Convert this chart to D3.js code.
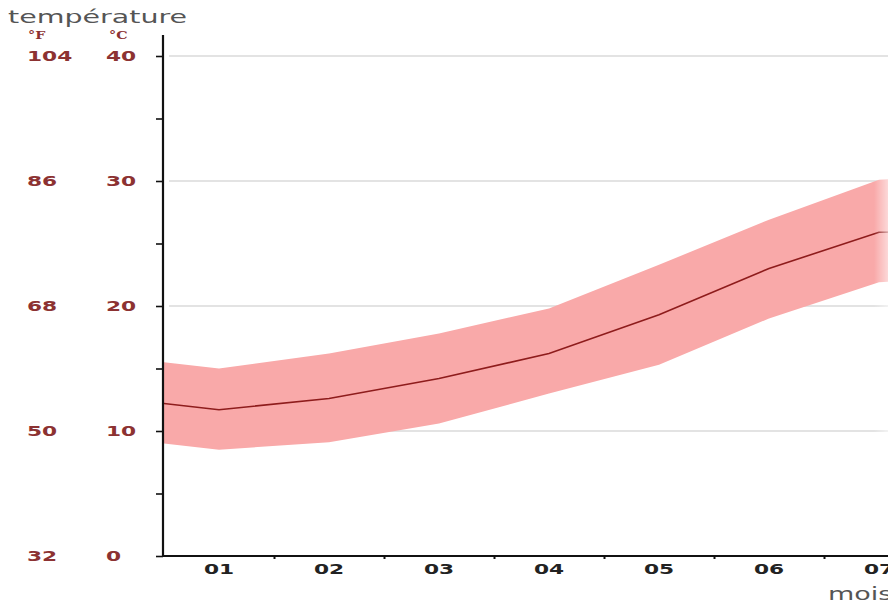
<!DOCTYPE html>
<html>
<head>
<meta charset="utf-8">
<script src="https://cdn.jsdelivr.net/npm/d3@7"></script>
<style>
  body { margin: 0; background: #fff; }
  svg { display: block; }
</style>
</head>
<body>
<div class="chart"></div>
<script>
// month index 0 = previous December, 8 = August (both partly outside the plot)
const monthIdx = [0, 1, 2, 3, 4, 5, 6, 7, 8]
const tMean = [12.7, 11.7, 12.6, 14.2, 16.2, 19.3, 23.0, 25.9, 26.2]
const tMax = [16.0, 15.0, 16.2, 17.8, 19.8, 23.3, 26.9, 30.1, 30.5]
const tMin = [9.5, 8.5, 9.1, 10.6, 13.0, 15.3, 19.0, 21.9, 22.3]
const monthLabels = ['01', '02', '03', '04', '05', '06', '07']
const celsiusTicks = [0, 10, 20, 30, 40]
const fahrenheitLabels = ['32', '50', '68', '86', '104']

const W = 888
const H = 603
const LABEL_COLOR = '#8c3232'
const STRETCH = 1.55

const data = monthIdx.map((m, i) => ({ m, mean: tMean[i], hi: tMax[i], lo: tMin[i] }))

const svg = d3.select('.chart').append('svg')
  .attr('width', W)
  .attr('height', H)

const x = d3.scaleLinear().domain([0.5, 7.5]).range([164, 934])
const y = d3.scaleLinear().domain([0, 40]).range([556, 56])

svg.append('clipPath').attr('id', 'plot-clip')
  .append('rect')
  .attr('x', x(0.5)).attr('y', 30)
  .attr('width', W - x(0.5)).attr('height', y(0) - 30)

// grid
svg.append('g')
  .selectAll('line')
  .data(celsiusTicks.filter(d => d > 0))
  .join('line')
  .attr('x1', 169).attr('x2', W)
  .attr('y1', d => y(d)).attr('y2', d => y(d))
  .attr('stroke', '#c8c8c8')
  .attr('stroke-width', 1.2)

const plot = svg.append('g').attr('clip-path', 'url(#plot-clip)')

plot.append('path')
  .datum(data)
  .attr('fill', '#f9a9a9')
  .attr('d', d3.area().x(d => x(d.m)).y0(d => y(d.lo)).y1(d => y(d.hi)))

plot.append('path')
  .datum(data)
  .attr('fill', 'none')
  .attr('stroke', '#8e1c1c')
  .attr('stroke-width', 1.6)
  .attr('d', d3.line().x(d => x(d.m)).y(d => y(d.mean)))

// right edge fade as in the source image
const fade = svg.append('defs').append('linearGradient').attr('id', 'fade')
fade.append('stop').attr('offset', '0%').attr('stop-color', '#fff').attr('stop-opacity', 0)
fade.append('stop').attr('offset', '100%').attr('stop-color', '#fff').attr('stop-opacity', 0.55)
svg.append('rect').attr('x', W - 14).attr('y', 150).attr('width', 14).attr('height', 350).attr('fill', 'url(#fade)')

// y axis
const axisY = d3.axisLeft(y).tickValues(d3.range(0, 41, 5)).tickSize(7).tickFormat('')
const gy = svg.append('g').attr('transform', 'translate(163,0)').call(axisY)
gy.select('.domain').remove()
gy.selectAll('.tick line').attr('stroke', '#111').attr('stroke-width', 1.6)
svg.append('line')
  .attr('x1', 163).attr('x2', 163).attr('y1', 35).attr('y2', y(0) + 1)
  .attr('stroke', '#111').attr('stroke-width', 2.2)

// x axis
const axisX = d3.axisBottom(x).tickValues(d3.range(1.5, 8, 1)).tickSize(3).tickFormat('')
const gx = svg.append('g').attr('transform', `translate(0,${y(0)})`).call(axisX)
gx.select('.domain').remove()
gx.selectAll('.tick line').attr('stroke', '#111').attr('stroke-width', 2)
svg.append('line')
  .attr('x1', 162).attr('x2', W).attr('y1', y(0)).attr('y2', y(0))
  .attr('stroke', '#111').attr('stroke-width', 2.2)

function stretchedText (sel, px, py, anchor, k) {
  return sel.append('text')
    .attr('transform', `translate(${px},${py}) scale(${k || STRETCH},1)`)
    .attr('text-anchor', anchor || 'start')
}

// y labels (celsius and fahrenheit)
celsiusTicks.forEach((c, i) => {
  stretchedText(svg, 106, y(c) + 5)
    .attr('font-family', 'DejaVu Sans')
    .attr('font-weight', 'bold')
    .attr('font-size', 14)
    .attr('fill', LABEL_COLOR)
    .text(c)
  stretchedText(svg, 27, y(c) + 5)
    .attr('font-family', 'DejaVu Sans')
    .attr('font-weight', 'bold')
    .attr('font-size', 14)
    .attr('fill', LABEL_COLOR)
    .text(fahrenheitLabels[i])
})

// x labels
monthLabels.forEach((lab, i) => {
  stretchedText(svg, x(i + 1), 574, 'middle')
    .attr('font-family', 'DejaVu Sans')
    .attr('font-weight', 'bold')
    .attr('font-size', 14)
    .attr('fill', '#222')
    .text(lab)
})

// units and titles
stretchedText(svg, 28, 39, 'start', 1.3)
  .attr('font-family', 'DejaVu Serif')
  .attr('font-weight', 'bold')
  .attr('font-size', 11)
  .attr('fill', LABEL_COLOR)
  .text('°F')
stretchedText(svg, 109, 39, 'start', 1.3)
  .attr('font-family', 'DejaVu Serif')
  .attr('font-weight', 'bold')
  .attr('font-size', 11)
  .attr('fill', LABEL_COLOR)
  .text('°C')

stretchedText(svg, 8, 23, 'start', 1.54)
  .attr('font-family', 'DejaVu Sans')
  .attr('font-size', 18.5)
  .attr('fill', '#555')
  .text('température')

stretchedText(svg, 828, 600, 'start', 1.5)
  .attr('font-family', 'DejaVu Sans')
  .attr('font-size', 18)
  .attr('fill', '#555')
  .text('mois')
</script>
</body>
</html>
